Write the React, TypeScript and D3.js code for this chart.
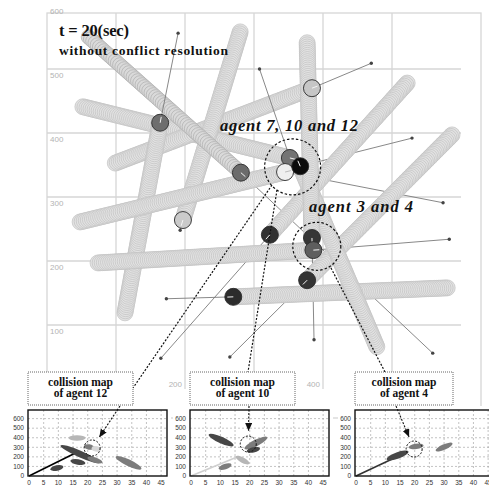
import React, { useEffect, useRef } from "react";
import * as d3 from "d3";

const W = 489;
const H = 488;

// main plot (position units)
const gridTicks = [0, 100, 200, 300, 400, 500, 600];

// swept tube of each agent: start -> position at t = 20 s, plus its goal
const tubeStart = [
  [60, 550], [52, 441], [99, 353], [113, 119], [280, 558], [48, 261],
  [478, 66], [377, 541], [74, 197], [522, 478], [587, 397], [580, 158],
];
const tubeEnd = [
  [281, 338], [352, 361], [384, 470], [164, 416], [197, 264], [345, 339],
  [367, 348], [384, 236], [386, 217], [323, 241], [377, 170], [270, 144],
];
const goals = [
  [559, 56], [308, 500], [470, 509], [190, 556], [193, 248], [574, 291],
  [529, 392], [387, 77], [583, 234], [165, 48], [265, 50], [173, 141],
];

const clusterFocus = [356, 347];
const pairFocus = [391, 223];

// collision maps
const mapXTicks = [0, 5, 10, 15, 20, 25, 30, 35, 40, 45];
const mapYTicks = [0, 100, 200, 300, 400, 500, 600];
const mapAgents = [12, 10, 4];

const map12Regions = [
  [14, 397, 18.7, 397], [19.2, 310, 21.7, 297], [21.8, 290, 24, 276],
  [11.2, 313, 23.5, 146], [14.6, 157, 18.7, 136], [7.8, 73, 11.2, 94],
  [20.4, 188, 24.5, 146], [30, 195, 37.8, 80],
];
const map12Tones = ["light", "mid", "pale", "dark", "dark", "dark", "mid", "mid"];
const map12Velocity = [16.5, 250];
const map12Focus = [21.5, 293];

const map10Regions = [
  [6.5, 428, 14, 324], [18.7, 293, 25.5, 397], [19.5, 262, 23, 285],
  [15.7, 198, 19.4, 136], [9.9, 80, 13.3, 115],
];
const map10Tones = ["dark", "mid", "dark", "light", "mid"];
const map10Velocity = [15.7, 199];
const map10Focus = [19.5, 334];

const map4Regions = [
  [18.5, 300, 22.5, 318], [27.6, 270, 32.4, 335], [10.9, 178, 17.4, 251],
];
const map4Tones = ["mid", "mid", "dark"];
const map4Velocity = [17.4, 251];
const map4Focus = [19.8, 282];

const agentFill = [
  "#6b6b6b", "#747474", "#c6c6c6", "#6e6e6e", "#cacaca", "#efefef",
  "#0b0b0b", "#363636", "#5e5e5e", "#313131", "#343434", "#2c2c2c",
];
const toneColor = { dark: "#474747", mid: "#7c7c7c", light: "#b6b6b6", pale: "#d8d8d8" };

const App = () => {
  const ref = useRef(null);

  useEffect(() => {
    document.body.style.margin = "0";
    drawChart();
  }, []);

  const drawChart = () => {
    const svg = d3.select(ref.current).html("");
    const serif = "'Liberation Serif', 'DejaVu Serif', serif";
    const sans = "'Liberation Sans', Arial, sans-serif";
    const gridColor = "#d6d6d6";

    svg.append("rect").attr("width", W).attr("height", H).attr("fill", "#fff");

    const defs = svg.append("defs");
    defs
      .append("marker")
      .attr("id", "arrow")
      .attr("viewBox", "0 0 8 7")
      .attr("refX", 8)
      .attr("refY", 3.5)
      .attr("markerWidth", 8)
      .attr("markerHeight", 7)
      .attr("markerUnits", "userSpaceOnUse")
      .attr("orient", "auto")
      .append("path")
      .attr("d", "M0,0 L8,3.5 L0,7 z")
      .attr("fill", "#111");

    const x = d3.scaleLinear().domain([0, 600]).range([47, 461]);
    const y = d3.scaleLinear().domain([0, 600]).range([389, 5]);

    // label boxes of the collision maps (drawn later, used here to skip hidden labels)
    const boxes = [
      [28, 105],
      [190, 105],
      [355, 98],
    ];

    // frame + grid
    const grid = svg.append("g").attr("stroke", gridColor).attr("stroke-width", 1.3);
    grid
      .append("rect")
      .attr("x", 47)
      .attr("y", 13)
      .attr("width", 434)
      .attr("height", 405)
      .attr("fill", "none");
    grid
      .selectAll("line.v")
      .data(gridTicks.filter((t) => t > 0 && t < 600))
      .join("line")
      .attr("x1", (d) => x(d))
      .attr("x2", (d) => x(d))
      .attr("y1", 13)
      .attr("y2", y(0));
    grid
      .selectAll("line.h")
      .data(gridTicks.filter((t) => t > 0 && t < 600))
      .join("line")
      .attr("x1", x(0))
      .attr("x2", x(600))
      .attr("y1", (d) => y(d))
      .attr("y2", (d) => y(d));

    svg
      .append("g")
      .selectAll("text")
      .data(gridTicks.filter((t) => t > 0))
      .join("text")
      .attr("x", 50)
      .attr("y", (d) => y(d) + 8.5)
      .text((d) => d)
      .style("font-family", sans)
      .style("font-size", "8px")
      .attr("fill", "#b3b3b3");
    svg
      .append("g")
      .selectAll("text")
      .data(gridTicks.filter((t) => !boxes.some(([bx, bw]) => x(t) - 16 < bx + bw && x(t) > bx)))
      .join("text")
      .attr("x", (d) => x(d) - 3)
      .attr("y", 387)
      .attr("text-anchor", "end")
      .text((d) => d)
      .style("font-family", sans)
      .style("font-size", "8px")
      .attr("fill", "#b3b3b3");

    const px = (p) => [x(p[0]), y(p[1])];

    const goalLine = (g, i) => {
      const a = px(tubeEnd[i]);
      const b = px(goals[i]);
      g.append("line")
        .attr("x1", a[0])
        .attr("y1", a[1])
        .attr("x2", b[0])
        .attr("y2", b[1])
        .attr("stroke", "#7a7a7a")
        .attr("stroke-width", 0.9);
    };
    const onTop = [1, 3];

    const behind = svg.append("g");
    tubeEnd.forEach((_, i) => {
      if (!onTop.includes(i)) goalLine(behind, i);
    });

    // swept tubes
    const tubes = svg.append("g");
    const order = [1, 2, 3, 4, 5, 8, 11, 10, 9, 6, 7, 0];
    order.forEach((i) => {
      const p0 = px(tubeStart[i]);
      const p1 = px(tubeEnd[i]);
      const len = Math.hypot(p1[0] - p0[0], p1[1] - p0[1]);
      const n = Math.max(2, Math.round(len / (i === 0 ? 3 : 2.1)));
      const steps = d3.range(n + 1).map((k) => k / n);
      tubes
        .append("g")
        .selectAll("circle")
        .data(steps)
        .join("circle")
        .attr("cx", (t) => p0[0] + (p1[0] - p0[0]) * t)
        .attr("cy", (t) => p0[1] + (p1[1] - p0[1]) * t)
        .attr("r", i === 0 ? 7.2 : 8)
        .attr("fill", i === 0 ? "#dadada" : "#e2e2e2")
        .attr("stroke", i === 0 ? "#adadad" : "#c2c2c2")
        .attr("stroke-width", 0.7);
    });

    const top = svg.append("g");
    onTop.forEach((i) => goalLine(top, i));

    // goal dots
    svg
      .append("g")
      .selectAll("circle")
      .data(goals)
      .join("circle")
      .attr("cx", (d) => x(d[0]))
      .attr("cy", (d) => y(d[1]))
      .attr("r", 1.7)
      .attr("fill", "#444");

    // agents
    const agents = svg.append("g");
    tubeEnd.forEach((e, i) => {
      const p0 = px(tubeStart[i]);
      const p1 = px(e);
      const len = Math.hypot(p1[0] - p0[0], p1[1] - p0[1]);
      const ux = (p1[0] - p0[0]) / len;
      const uy = (p1[1] - p0[1]) / len;
      agents
        .append("circle")
        .attr("cx", p1[0])
        .attr("cy", p1[1])
        .attr("r", 8.5)
        .attr("fill", agentFill[i])
        .attr("stroke", "#2a2a2a")
        .attr("stroke-width", 0.9);
      agents
        .append("line")
        .attr("x1", p1[0])
        .attr("y1", p1[1])
        .attr("x2", p1[0] + ux * 6)
        .attr("y2", p1[1] + uy * 6)
        .attr("stroke", i === 5 ? "#bbb" : "#f4f4f4")
        .attr("stroke-width", 1);
    });

    // focus circles
    [
      [clusterFocus, 28],
      [pairFocus, 24],
    ].forEach(([c, r]) => {
      svg
        .append("circle")
        .attr("cx", x(c[0]))
        .attr("cy", y(c[1]))
        .attr("r", r)
        .attr("fill", "none")
        .attr("stroke", "#111")
        .attr("stroke-width", 1.2)
        .attr("stroke-dasharray", "2.5,2");
    });

    // texts
    svg
      .append("text")
      .attr("x", 59)
      .attr("y", 36)
      .attr("textLength", 70)
      .text("t = 20(sec)")
      .style("font-family", serif)
      .style("font-weight", "bold")
      .style("font-size", "16.5px")
      .attr("fill", "#111");
    svg
      .append("text")
      .attr("x", 59)
      .attr("y", 55)
      .attr("textLength", 169)
      .text("without conflict resolution")
      .style("font-family", serif)
      .style("font-weight", "bold")
      .style("font-size", "13.5px")
      .attr("fill", "#111");
    [
      ["agent 7, 10 and 12", 220, 131, 138],
      ["agent 3 and 4", 309, 212, 104],
    ].forEach(([t, tx, ty, tl]) => {
      svg
        .append("text")
        .attr("x", tx)
        .attr("y", ty)
        .attr("textLength", tl)
        .text(t)
        .style("font-family", serif)
        .style("font-weight", "bold")
        .style("font-style", "italic")
        .style("font-size", "16.5px")
        .attr("fill", "#111");
    });

    // connectors to the collision maps
    const connectors = [
      [[272, 185], [133, 388]],
      [[277, 190], [248, 372]],
      [[331, 268], [385, 372]],
    ];
    connectors.forEach(([a, b]) => {
      svg
        .append("line")
        .attr("x1", a[0])
        .attr("y1", a[1])
        .attr("x2", b[0])
        .attr("y2", b[1])
        .attr("stroke", "#111")
        .attr("stroke-width", 1.2)
        .attr("stroke-dasharray", "2,1.6");
    });

    // collision maps
    const insets = [
      { left: 28, regions: map12Regions, tones: map12Tones, vel: map12Velocity, velColor: "#000", focus: map12Focus, arrowFrom: [120, 406] },
      { left: 190, regions: map10Regions, tones: map10Tones, vel: map10Velocity, velColor: "#cfcfcf", focus: map10Focus, arrowFrom: [249, 406] },
      { left: 355, regions: map4Regions, tones: map4Tones, vel: map4Velocity, velColor: "#333", focus: map4Focus, arrowFrom: [396, 406] },
    ];

    insets.forEach((m, k) => {
      const g = svg.append("g");
      const L = m.left;
      const [boxX, boxW] = boxes[k];
      const xs = d3.scaleLinear().domain([0, 47]).range([L + 1, L + 139]);
      const ys = d3.scaleLinear().domain([0, 690]).range([476, 410]);

      g.append("rect")
        .attr("x", L - 17)
        .attr("y", 406)
        .attr("width", 160)
        .attr("height", 82)
        .attr("fill", "#fff");

      g.selectAll("line.gx")
        .data(mapXTicks.filter((t) => t > 0))
        .join("line")
        .attr("x1", (d) => xs(d))
        .attr("x2", (d) => xs(d))
        .attr("y1", 410)
        .attr("y2", 476)
        .attr("stroke", "#9a9a9a")
        .attr("stroke-width", 0.6)
        .attr("stroke-dasharray", "2,2");
      g.selectAll("line.gy")
        .data(mapYTicks.filter((t) => t > 0))
        .join("line")
        .attr("x1", L)
        .attr("x2", L + 139)
        .attr("y1", (d) => ys(d))
        .attr("y2", (d) => ys(d))
        .attr("stroke", "#9a9a9a")
        .attr("stroke-width", 0.6)
        .attr("stroke-dasharray", "2,2");

      g.selectAll("text.tx")
        .data(mapXTicks)
        .join("text")
        .attr("x", (d) => xs(d))
        .attr("y", 485)
        .attr("text-anchor", "middle")
        .text((d) => d)
        .style("font-family", sans)
        .style("font-size", "6.5px")
        .attr("fill", "#333");
      g.selectAll("text.ty")
        .data(mapYTicks)
        .join("text")
        .attr("x", L - 4)
        .attr("y", (d) => ys(d) + 2.3)
        .attr("text-anchor", "end")
        .text((d) => d)
        .style("font-family", sans)
        .style("font-size", "6.5px")
        .attr("fill", "#333");

      // velocity line from the origin
      g.append("line")
        .attr("x1", xs(0))
        .attr("y1", ys(0))
        .attr("x2", xs(m.vel[0]))
        .attr("y2", ys(m.vel[1]))
        .attr("stroke", m.velColor)
        .attr("stroke-width", 1.6);

      m.regions.forEach((r, j) => {
        const a = [xs(r[0]), ys(r[1])];
        const b = [xs(r[2]), ys(r[3])];
        const len = Math.hypot(b[0] - a[0], b[1] - a[1]);
        const ang = (Math.atan2(b[1] - a[1], b[0] - a[0]) * 180) / Math.PI;
        g.append("ellipse")
          .attr("transform", `translate(${(a[0] + b[0]) / 2},${(a[1] + b[1]) / 2}) rotate(${ang})`)
          .attr("rx", len / 2 + 1.5)
          .attr("ry", len > 18 ? 3.3 : 2.7)
          .attr("fill", toneColor[m.tones[j]]);
      });

      const fc = [xs(m.focus[0]), ys(m.focus[1])];
      const fr = 8;
      g.append("circle")
        .attr("cx", fc[0])
        .attr("cy", fc[1])
        .attr("r", fr)
        .attr("fill", "none")
        .attr("stroke", "#111")
        .attr("stroke-width", 1)
        .attr("stroke-dasharray", "2,1.5");

      g.append("rect")
        .attr("x", L)
        .attr("y", 410)
        .attr("width", 139)
        .attr("height", 66)
        .attr("fill", "none")
        .attr("stroke", "#111")
        .attr("stroke-width", 1.4);

      // label box
      g.append("rect")
        .attr("x", boxX)
        .attr("y", 372)
        .attr("width", boxW)
        .attr("height", 33)
        .attr("fill", "#fff")
        .attr("stroke", "#555")
        .attr("stroke-width", 0.9)
        .attr("stroke-dasharray", "1,1");
      const cx = boxX + boxW / 2;
      [
        ["collision map", 386],
        [`of agent ${mapAgents[k]}`, 397],
      ].forEach(([t, ty]) => {
        g.append("text")
          .attr("x", cx)
          .attr("y", ty)
          .attr("text-anchor", "middle")
          .text(t)
          .style("font-family", serif)
          .style("font-weight", "bold")
          .style("font-size", "11.5px")
          .attr("fill", "#111");
      });

      // arrow into the focus circle
      const s = m.arrowFrom;
      const dx = s[0] - fc[0];
      const dy = s[1] - fc[1];
      const dl = Math.hypot(dx, dy);
      g.append("line")
        .attr("x1", s[0])
        .attr("y1", s[1])
        .attr("x2", fc[0] + (dx / dl) * (fr + 5))
        .attr("y2", fc[1] + (dy / dl) * (fr + 5))
        .attr("stroke", "#111")
        .attr("stroke-width", 1.1)
        .attr("stroke-dasharray", "2,1.5")
        .attr("marker-end", "url(#arrow)");
    });
  };

  return <svg ref={ref} width={W} height={H} style={{ display: "block" }}></svg>;
};

export default App;
